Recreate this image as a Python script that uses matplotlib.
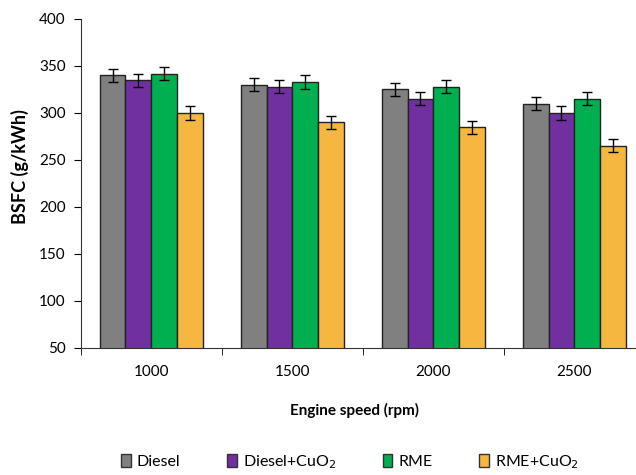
import numpy as np
import matplotlib.pyplot as plt
from matplotlib.patches import Patch

plt.rcParams['font.family'] = ['Lato', 'DejaVu Sans']

# data
speeds = ['1000', '1500', '2000', '2500']
series = ['Diesel', 'Diesel+CuO$_2$', 'RME', 'RME+CuO$_2$']
diesel = [340, 330, 325, 310]
diesel_cuo2 = [335, 328, 315, 300]
rme = [342, 333, 328, 315]
rme_cuo2 = [300, 290, 285, 265]
errors = [7, 7, 7, 7]

colors = ['#808080', '#7030A0', '#00B050', '#F5B73F']
values = [diesel, diesel_cuo2, rme, rme_cuo2]

fig = plt.figure(figsize=(6.36, 4.75), dpi=100)
# axes runs a bit past the right edge, like the cropped original
ax = fig.add_axes([0.127, 0.2674, 0.887, 0.6926])

x = np.arange(len(speeds))
w = 0.183
for i, (vals, col) in enumerate(zip(values, colors)):
    ax.bar(x + (i - 1.5) * w, vals, w, color=col, edgecolor='#222222',
           linewidth=1.0, yerr=errors, capsize=3.5,
           error_kw=dict(ecolor='black', elinewidth=1, capthick=1))

ax.set_xlim(-0.5, len(speeds) - 0.5)
ax.set_ylim(50, 400)
ax.set_yticks(range(50, 401, 50))
ax.set_xticks(x)
ax.set_xticklabels(speeds)
ax.set_xticks(np.arange(-0.5, len(speeds), 1), minor=True)
ax.tick_params(axis='x', which='major', length=0, pad=12, labelsize=11)
ax.tick_params(axis='x', which='minor', length=5, direction='out')
ax.tick_params(axis='y', length=5, direction='out', labelsize=11, pad=6)

ax.spines['top'].set_visible(False)
ax.spines['right'].set_visible(False)
for s in ['left', 'bottom']:
    ax.spines[s].set_color('#333333')

ax.set_ylabel('BSFC (g/kWh)', fontsize=13, fontweight='bold', va='center')
ax.yaxis.set_label_coords(-0.107, 0.55)
fig.text(355 / 636, 1 - 410 / 475, 'Engine speed (rpm)', fontsize=11,
         fontweight='bold', ha='center', va='center')

handles = [Patch(facecolor=c, edgecolor='#333333', linewidth=1) for c in colors]
fig.legend(handles, series, loc='center', ncol=4, frameon=False,
           bbox_to_anchor=(350 / 636, 1 - 462 / 475), fontsize=11.5,
           handlelength=0.6, handleheight=0.8, handletextpad=0.4,
           columnspacing=2.9)

fig.savefig('out.png', dpi=100)
